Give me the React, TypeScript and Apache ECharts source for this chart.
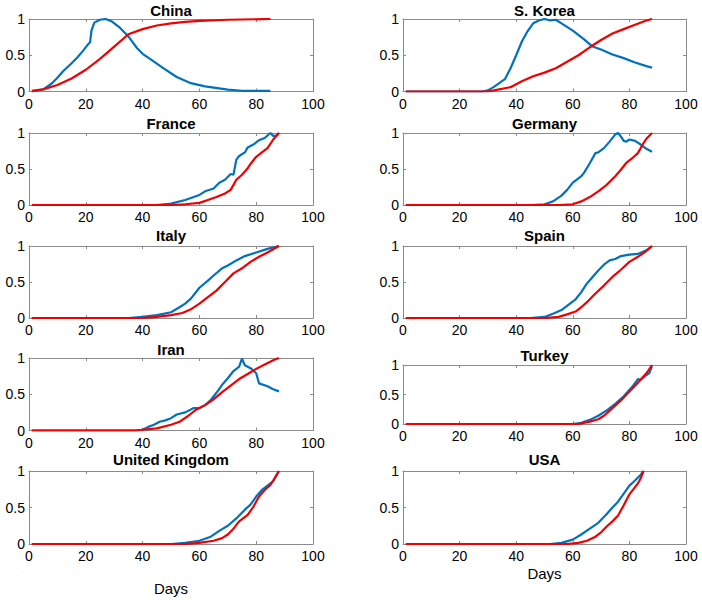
import React, { useEffect, useRef } from "react";
import * as echarts from "echarts";

// ---- Data: [day, normalized value] ----
const countries = ["China", "S. Korea", "France", "Germany", "Italy", "Spain", "Iran", "Turkey", "United Kingdom", "USA"];

const chinaBlue = [[1,0],[5,0.03],[8,0.11],[10,0.19],[12,0.28],[15,0.39],[17,0.47],[19,0.56],[21,0.66],[21.5,0.68],[22,0.84],[23,0.95],[25,0.99],[27,1.0],[29,0.97],[32,0.88],[35,0.76],[38,0.6],[40,0.52],[43,0.44],[47,0.33],[52,0.2],[57,0.115],[62,0.07],[70,0.025],[75,0.01],[85,0.01]];
const chinaRed = [[1,0.01],[5,0.03],[10,0.09],[15,0.18],[20,0.3],[25,0.45],[30,0.62],[35,0.79],[40,0.86],[45,0.91],[50,0.94],[55,0.96],[60,0.975],[70,0.99],[85,1.0]];

const koreaBlue = [[1,0],[28,0],[30,0.015],[32,0.06],[34,0.115],[36,0.17],[38,0.32],[40,0.5],[42,0.69],[44,0.83],[46,0.94],[48,0.98],[50,1.0],[52,0.98],[54,0.99],[56,0.94],[60,0.84],[64,0.72],[67,0.62],[70,0.58],[74,0.51],[78,0.46],[82,0.4],[86,0.35],[88,0.33]];
const koreaRed = [[1,0],[30,0],[34,0.03],[38,0.06],[42,0.14],[46,0.21],[50,0.26],[54,0.32],[58,0.41],[62,0.5],[66,0.61],[70,0.71],[74,0.8],[78,0.86],[82,0.92],[86,0.98],[88,1.0]];

const franceBlue = [[1,0],[45,0],[50,0.02],[55,0.07],[60,0.14],[62,0.19],[65,0.23],[67,0.31],[69,0.35],[71,0.43],[72,0.42],[73,0.63],[74,0.68],[76,0.73],[77,0.8],[79,0.84],[81,0.9],[83,0.93],[85,1.0],[86,0.96],[87,0.96],[88,1.0]];
const franceRed = [[1,0],[50,0],[55,0.01],[60,0.03],[63,0.07],[66,0.11],[69,0.16],[71,0.21],[72,0.28],[73,0.35],[75,0.42],[77,0.51],[78,0.57],[80,0.67],[82,0.73],[84,0.79],[86,0.91],[88,1.0]];

const germanyBlue = [[1,0],[45,0],[50,0.01],[53,0.05],[56,0.13],[58,0.21],[60,0.31],[62,0.37],[63,0.4],[64,0.45],[66,0.58],[68,0.72],[69,0.73],[71,0.79],[73,0.88],[75,0.98],[76,1.0],[77,0.95],[78,0.89],[79,0.88],[80,0.91],[82,0.89],[84,0.84],[86,0.78],[88,0.74]];
const germanyRed = [[1,0],[55,0],[60,0.01],[63,0.05],[66,0.11],[69,0.19],[72,0.28],[75,0.4],[77,0.49],[79,0.59],[81,0.65],[83,0.72],[85,0.86],[86,0.92],[88,1.0]];

const italyBlue = [[1,0],[35,0],[40,0.015],[45,0.04],[50,0.08],[53,0.15],[55,0.2],[57,0.27],[60,0.42],[63,0.52],[65,0.59],[68,0.69],[70,0.73],[73,0.8],[76,0.86],[80,0.91],[84,0.96],[88,1.0]];
const italyRed = [[1,0],[40,0],[45,0.015],[50,0.04],[54,0.07],[57,0.12],[60,0.2],[63,0.29],[66,0.38],[69,0.5],[72,0.62],[75,0.69],[78,0.78],[81,0.85],[84,0.91],[88,1.0]];

const spainBlue = [[1,0],[45,0],[50,0.015],[53,0.06],[56,0.11],[59,0.2],[61,0.26],[63,0.36],[65,0.48],[67,0.57],[69,0.66],[71,0.74],[73,0.8],[75,0.82],[77,0.86],[80,0.88],[83,0.89],[86,0.94],[88,1.0]];
const spainRed = [[1,0],[50,0],[55,0.015],[58,0.05],[61,0.09],[63,0.15],[65,0.22],[68,0.34],[71,0.45],[74,0.57],[77,0.67],[80,0.78],[83,0.85],[86,0.93],[88,1.0]];

const iranBlue = [[1,0],[37,0],[40,0.01],[42,0.05],[44,0.08],[46,0.12],[48,0.14],[50,0.17],[52,0.22],[55,0.25],[58,0.31],[60,0.31],[62,0.35],[64,0.42],[66,0.52],[68,0.63],[70,0.72],[72,0.82],[74,0.88],[75,0.99],[76,0.9],[78,0.86],[80,0.79],[81,0.65],[84,0.61],[86,0.57],[88,0.54]];
const iranRed = [[1,0],[38,0],[40,0.01],[45,0.03],[50,0.08],[53,0.12],[56,0.2],[59,0.29],[62,0.35],[65,0.43],[68,0.53],[71,0.62],[74,0.71],[77,0.78],[80,0.85],[83,0.91],[86,0.97],[88,1.0]];

const turkeyBlue = [[1,0],[60,0],[63,0.02],[66,0.07],[69,0.14],[72,0.23],[75,0.34],[78,0.47],[81,0.63],[83,0.76],[84,0.75],[86,0.83],[87,0.86],[88,0.98]];
const turkeyRed = [[1,0],[62,0],[66,0.04],[69,0.08],[71,0.14],[74,0.27],[77,0.4],[80,0.55],[83,0.7],[86,0.86],[88,1.0]];

const ukBlue = [[1,0],[50,0],[55,0.015],[60,0.045],[64,0.1],[67,0.18],[70,0.25],[73,0.35],[76,0.47],[78,0.54],[80,0.65],[82,0.74],[84,0.8],[85,0.83],[86,0.86],[88,1.0]];
const ukRed = [[1,0],[55,0],[60,0.015],[65,0.045],[68,0.08],[70,0.13],[72,0.21],[74,0.31],[77,0.4],[79,0.51],[81,0.65],[83,0.74],[85,0.81],[86,0.87],[88,1.0]];

const usaBlue = [[1,0],[52,0],[56,0.015],[60,0.06],[63,0.13],[66,0.21],[69,0.29],[72,0.41],[74,0.5],[76,0.58],[78,0.69],[80,0.8],[82,0.87],[84,0.95],[85,1.0]];
const usaRed = [[1,0],[58,0],[62,0.015],[65,0.045],[68,0.1],[70,0.16],[72,0.24],[74,0.31],[76,0.39],[78,0.53],[80,0.68],[82,0.78],[83,0.83],[84,0.9],[85,1.0]];

const blueSeries = [chinaBlue, koreaBlue, franceBlue, germanyBlue, italyBlue, spainBlue, iranBlue, turkeyBlue, ukBlue, usaBlue];
const redSeries = [chinaRed, koreaRed, franceRed, germanyRed, italyRed, spainRed, iranRed, turkeyRed, ukRed, usaRed];

const xTicks = [0, 20, 40, 60, 80, 100];
const yTicks = [0, 0.5, 1];
const xAxisLabel = "Days";

// ---- Layout ----
const colLeft = [29, 403];
const colWidth = [284, 283];
const panelBoxes = [
  [19, 72.5], [19, 72.5],
  [133, 72], [133, 72],
  [246, 72], [246, 72],
  [358, 72.5], [365, 59],
  [471, 73], [471, 73],
];
const titleY = [10, 10, 123, 123, 235.5, 235.5, 349, 355, 459, 459];

const BLUE = "#0072BD";
const RED = "#F00000";
const AXIS = "#8a8a8a";
const FONT = "'Liberation Sans', Arial, Helvetica, sans-serif";

export default function App() {
  const ref = useRef<HTMLDivElement>(null);

  useEffect(() => {
    document.body.style.margin = "0";
    const chart = echarts.init(ref.current!, null, { renderer: "svg" });

    const grids: any[] = [];
    const xAxes: any[] = [];
    const yAxes: any[] = [];
    const series: any[] = [];
    const graphic: any[] = [];

    countries.forEach((name, i) => {
      const col = i % 2;
      const [top, height] = panelBoxes[i];
      grids.push({ left: colLeft[col], top, width: colWidth[col], height, show: false });

      const baseX = {
        type: "value",
        gridIndex: i,
        min: xTicks[0],
        max: xTicks[xTicks.length - 1],
        interval: xTicks[1] - xTicks[0],
        splitLine: { show: false },
        axisLine: { show: true, onZero: false, lineStyle: { color: AXIS, width: 1 } },
        axisTick: { show: true, inside: true, length: 3, lineStyle: { color: AXIS } },
      };
      xAxes.push({
        ...baseX,
        position: "bottom",
        axisLabel: { show: true, color: "#000", fontSize: 14, fontFamily: FONT, margin: 5 },
      });
      xAxes.push({ ...baseX, position: "top", axisLabel: { show: false } });

      const baseY = {
        type: "value",
        gridIndex: i,
        min: yTicks[0],
        max: yTicks[yTicks.length - 1],
        interval: yTicks[1] - yTicks[0],
        splitLine: { show: false },
        axisLine: { show: true, onZero: false, lineStyle: { color: AXIS, width: 1 } },
        axisTick: { show: true, inside: true, length: 3, lineStyle: { color: AXIS } },
      };
      yAxes.push({
        ...baseY,
        position: "left",
        axisLabel: {
          show: true, color: "#000", fontSize: 14, fontFamily: FONT, margin: 4,
          formatter: (v: number) => (v === 0.5 ? "0.5" : String(v)),
        },
      });
      yAxes.push({ ...baseY, position: "right", axisLabel: { show: false } });

      series.push({
        type: "line",
        xAxisIndex: i * 2,
        yAxisIndex: i * 2,
        data: blueSeries[i],
        showSymbol: false,
        lineStyle: { color: BLUE, width: 2.2 },
        itemStyle: { color: BLUE },
        z: 3,
      });
      series.push({
        type: "line",
        xAxisIndex: i * 2,
        yAxisIndex: i * 2,
        data: redSeries[i],
        showSymbol: false,
        lineStyle: { color: RED, width: 2.2 },
        itemStyle: { color: RED },
        z: 4,
      });

      graphic.push({
        type: "text",
        x: colLeft[col] + colWidth[col] / 2,
        y: titleY[i],
        style: {
          text: name,
          fill: "#000",
          font: `bold 15px ${FONT}`,
          textAlign: "center",
          textVerticalAlign: "middle",
        },
      });
    });

    graphic.push({
      type: "text",
      x: 171,
      y: 588,
      style: { text: xAxisLabel, fill: "#000", font: `15px ${FONT}`, textAlign: "center", textVerticalAlign: "middle" },
    });
    graphic.push({
      type: "text",
      x: 544.5,
      y: 573,
      style: { text: xAxisLabel, fill: "#000", font: `15px ${FONT}`, textAlign: "center", textVerticalAlign: "middle" },
    });

    chart.setOption({
      animation: false,
      backgroundColor: "#fff",
      grid: grids,
      xAxis: xAxes,
      yAxis: yAxes,
      series,
      graphic,
    });

    return () => chart.dispose();
  }, []);

  return (
    <div
      ref={ref}
      style={{ position: "absolute", left: 0, top: 0, width: 702, height: 600 }}
    />
  );
}
